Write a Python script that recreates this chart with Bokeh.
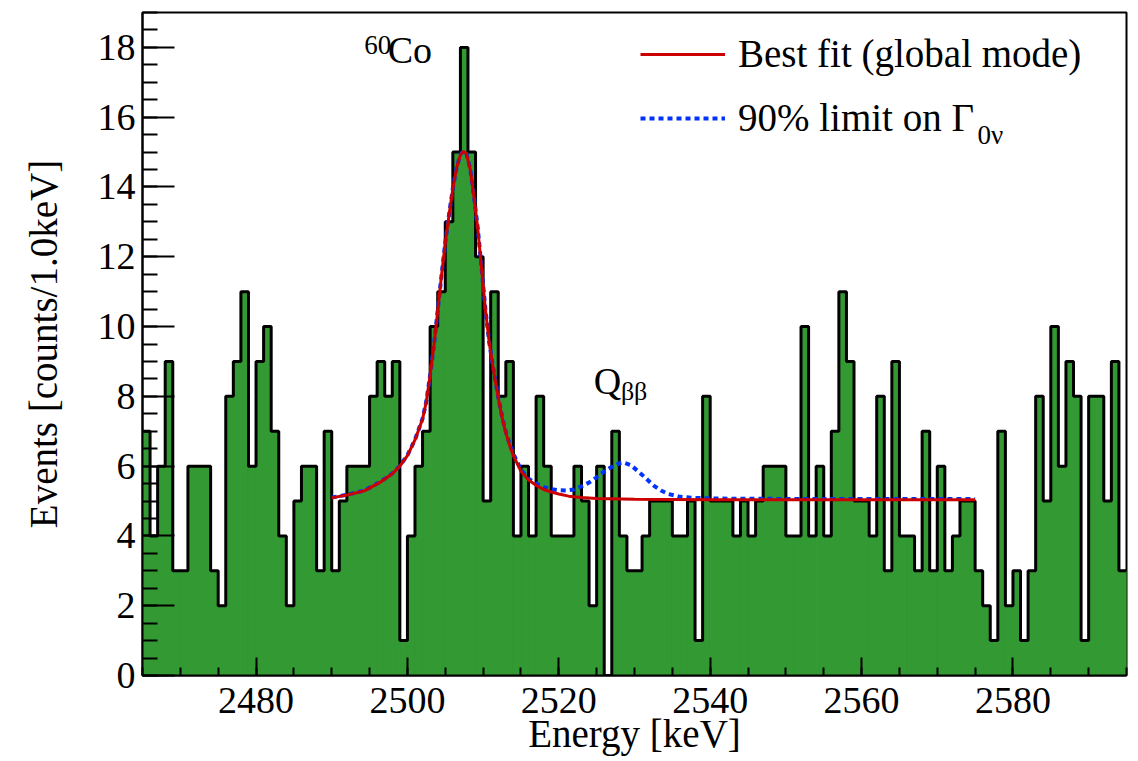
from bokeh.plotting import figure
from bokeh.models import SingleIntervalTicker, Legend, LegendItem
from bokeh.core.properties import value
from bokeh.embed import file_html
from bokeh.resources import INLINE

# ---------------- data ----------------
bin_start = 2465.0
bin_width = 1.0
counts = [7, 4, 6, 9, 3, 3, 6, 6, 6, 3,
          2, 8, 9, 11, 6, 9, 10, 7, 4, 2,
          5, 6, 6, 3, 7, 3, 5, 6, 6, 6,
          8, 9, 8, 9, 1, 4, 6, 7, 10, 11,
          13, 15, 18, 15, 12, 5, 11, 8, 9, 4,
          6, 4, 8, 6, 4, 4, 4, 6, 5, 2,
          6, 0, 7, 4, 3, 3, 4, 5, 5, 5,
          4, 4, 5, 1, 8, 5, 5, 5, 4, 5,
          4, 5, 6, 6, 6, 4, 4, 10, 4, 6,
          4, 7, 11, 9, 5, 5, 4, 8, 3, 9,
          4, 4, 3, 7, 3, 6, 3, 4, 5, 5,
          3, 2, 1, 7, 2, 3, 1, 3, 8, 5,
          10, 6, 9, 8, 1, 8, 8, 5, 9, 3]

# best fit curve
fit_x = [2490.0, 2492.0, 2494.3, 2496.5, 2498.0, 2499.0, 2500.0, 2501.0, 2502.0, 2502.5,
         2503.0, 2503.5, 2504.0, 2504.5, 2505.0, 2505.5, 2506.0, 2506.5, 2507.0, 2507.4,
         2507.8, 2508.3, 2508.8, 2509.3, 2509.8, 2510.3, 2510.8, 2511.3, 2512.0, 2512.5,
         2513.0, 2513.5, 2514.0, 2515.0, 2516.0, 2517.0, 2518.0, 2519.0, 2520.0, 2521.3,
         2523.0, 2525.0, 2530.0, 2540.0, 2575.0]
fit_y = [5.09, 5.17, 5.29, 5.55, 5.78, 6.0, 6.3, 6.75, 7.35, 7.85,
         8.6, 9.45, 10.45, 11.45, 12.4, 13.2, 13.95, 14.55, 14.92, 15.02,
         14.95, 14.5, 13.7, 12.8, 11.65, 10.5, 9.55, 8.85, 7.95, 7.4,
         6.95, 6.6, 6.3, 5.85, 5.6, 5.45, 5.33, 5.26, 5.2, 5.14,
         5.1, 5.07, 5.05, 5.04, 5.04]

# 90% limit curve
lim_x = [2490.0, 2492.0, 2494.3, 2496.5, 2498.0, 2499.0, 2500.0, 2501.0, 2502.0, 2502.5,
         2503.0, 2503.5, 2504.0, 2504.5, 2505.0, 2505.5, 2506.0, 2506.5, 2507.0, 2507.4,
         2507.8, 2508.3, 2508.8, 2509.3, 2509.8, 2510.3, 2510.8, 2511.3, 2512.0, 2512.5,
         2513.0, 2513.5, 2514.0, 2515.0, 2516.0, 2517.0, 2518.0, 2519.0, 2520.0, 2521.0,
         2522.0, 2523.0, 2524.0, 2525.0, 2526.0, 2527.0, 2528.0, 2528.6, 2529.5, 2530.5,
         2531.5, 2532.5, 2533.5, 2534.5, 2536.0, 2538.0, 2541.0, 2550.0, 2575.0]
lim_y = [5.1, 5.18, 5.3, 5.56, 5.79, 6.01, 6.31, 6.76, 7.36, 7.86,
         8.61, 9.46, 10.46, 11.46, 12.41, 13.21, 13.96, 14.56, 14.93, 15.03,
         14.96, 14.51, 13.71, 12.81, 11.66, 10.51, 9.56, 8.86, 7.97, 7.43,
         6.98, 6.64, 6.35, 5.9, 5.64, 5.5, 5.4, 5.34, 5.31, 5.3,
         5.33, 5.42, 5.53, 5.68, 5.85, 5.98, 6.08, 6.1, 6.03, 5.85,
         5.65, 5.45, 5.3, 5.2, 5.12, 5.09, 5.07, 5.06, 5.06]

x_ticks_interval = 20
y_ticks_interval = 2

# ---------------- figure ----------------
FONT = "Liberation Serif"

p = figure(width=1138, height=761, x_range=(2465, 2595), y_range=(0, 19),
           output_backend="svg", toolbar_location=None,
           min_border_left=142, min_border_right=12, min_border_top=12,
           min_border_bottom=86)
p.xgrid.visible = False
p.ygrid.visible = False
p.outline_line_color = "black"
p.outline_line_width = 2
p.background_fill_color = "white"
p.border_fill_color = "white"

edges = [bin_start + i * bin_width for i in range(len(counts) + 1)]
lefts = edges[:-1]
rights = edges[1:]

p.quad(left=lefts, right=rights, bottom=0, top=counts,
       fill_color="#339933", line_color="#339933", line_width=1)
p.step(x=edges, y=counts + [counts[-1]], mode="after",
       line_color="black", line_width=3)

r_blue = p.line(lim_x, lim_y, line_color="#0033ff", line_width=4, line_dash="5 4")
r_red = p.line(fit_x, fit_y, line_color="#cc0000", line_width=3)

# annotations
def label(x, y, txt, size):
    p.text(x=[x], y=[y], text=[txt], text_font=value(FONT),
           text_font_size=size, text_baseline="alphabetic", text_align="left",
           text_color="black")

label(2497.4, 17.92, "Co", "38px")
label(2494.3, 18.08, "60", "27px")
label(2524.6, 8.45, "Q", "38px")
label(2528.2, 8.15, "ββ", "26px")
label(2575.3, 15.5, "0ν", "27px")

legend = Legend(items=[LegendItem(label="Best fit (global mode)", renderers=[r_red]),
                       LegendItem(label="90% limit on Γ", renderers=[r_blue])],
                location=(498, 535), border_line_color=None,
                background_fill_alpha=0, padding=0, margin=0, spacing=19,
                glyph_width=85, glyph_height=40, label_height=40,
                label_standoff=13, label_text_font=FONT,
                label_text_font_size="39px", label_text_color="black")
p.add_layout(legend)

# axes
for ax in (p.xaxis[0], p.yaxis[0]):
    ax.axis_line_width = 2
    ax.major_tick_line_width = 2
    ax.minor_tick_line_width = 2
    ax.major_tick_out = 0
    ax.minor_tick_out = 0
    ax.major_label_text_font = FONT
    ax.major_label_text_font_size = "38px"
    ax.major_label_text_color = "black"
    ax.axis_label_text_font = FONT
    ax.axis_label_text_font_size = "39px"
    ax.axis_label_text_font_style = "normal"
    ax.axis_label_text_color = "black"

p.xaxis.ticker = SingleIntervalTicker(interval=x_ticks_interval, num_minor_ticks=4)
p.yaxis.ticker = SingleIntervalTicker(interval=y_ticks_interval, num_minor_ticks=4)
p.xaxis.major_tick_in = 18
p.xaxis.minor_tick_in = 8
p.yaxis.major_tick_in = 32
p.yaxis.minor_tick_in = 15
p.xaxis.major_label_standoff = 12
p.yaxis.major_label_standoff = 7
p.xaxis.axis_label_standoff = -4
p.yaxis.axis_label_standoff = 30
p.xaxis.axis_label = "Energy [keV]"
p.yaxis.axis_label = "Events [counts/1.0keV]"

open("out.html", "w").write(file_html(p, INLINE))
